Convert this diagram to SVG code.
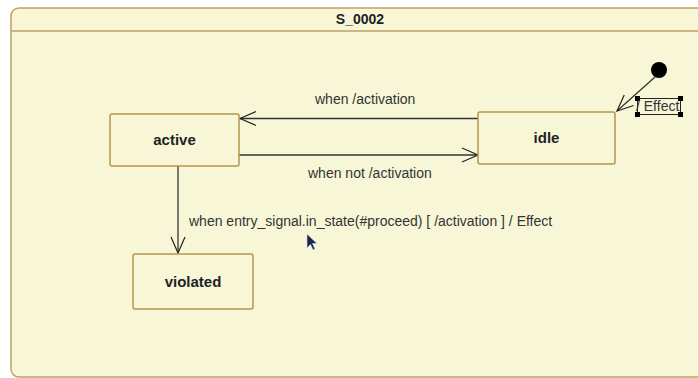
<svg xmlns="http://www.w3.org/2000/svg" width="698" height="378" viewBox="0 0 698 378">
  <defs>
    <marker id="open" viewBox="0 0 20 20" refX="18" refY="10" markerWidth="20" markerHeight="20" markerUnits="userSpaceOnUse" orient="auto">
      <path d="M2,3 L18,10 L2,17" fill="none" stroke="#222" stroke-width="1.2"/>
    </marker>
  </defs>
  <style>
    .frame { fill: #f7f7d8; stroke: #c0a060; stroke-width: 1.5; }
    .state { fill: #f7f7d8; stroke: #b8944c; stroke-width: 1.5; }
    .name { font-family: "Liberation Sans", Arial, sans-serif; font-size: 15px; font-weight: bold; fill: #222; text-anchor: middle; }
    .title { font-family: "Liberation Sans", Arial, sans-serif; font-size: 14px; font-weight: bold; fill: #222; text-anchor: middle; }
    .lbl { font-family: "Liberation Sans", Arial, sans-serif; font-size: 14px; fill: #333; }
    .edge { fill: none; stroke: #333; stroke-width: 1.3; marker-end: url(#open); }
  </style>
  <rect width="698" height="378" fill="#ffffff"/>

  <!-- composite state S_0002 -->
  <g id="S_0002">
    <rect class="frame" x="11" y="8" width="720" height="369" rx="8" ry="8"/>
    <line x1="11" y1="31" x2="698" y2="31" stroke="#c0a060" stroke-width="1.5"/>
    <text class="title" x="360" y="24">S_0002</text>
  </g>

  <!-- transitions -->
  <g id="connectors">
    <line class="edge" x1="478" y1="118.5" x2="240" y2="118.5"/>
    <text class="lbl" x="315" y="104">when /activation</text>
    <line class="edge" x1="239" y1="155" x2="478" y2="155"/>
    <text class="lbl" x="308" y="178">when not /activation</text>
    <line class="edge" x1="178" y1="166" x2="178" y2="253"/>
    <text class="lbl" x="189" y="226">when entry_signal.in_state(#proceed) [ /activation ] / Effect</text>
    <line class="edge" x1="655" y1="77" x2="617" y2="111"/>
    <g id="effect-label">
      <rect x="637.5" y="98.5" width="43" height="16" fill="none" stroke="#222" stroke-width="1"/>
      <rect x="635" y="96" width="5" height="5" fill="#000"/>
      <rect x="678" y="96" width="5" height="5" fill="#000"/>
      <rect x="635" y="112" width="5" height="5" fill="#000"/>
      <rect x="678" y="112" width="5" height="5" fill="#000"/>
      <text class="lbl" x="636" y="111">/ Effect</text>
    </g>
  </g>

  <g id="initial">
    <circle cx="659" cy="70" r="8" fill="#000"/>
  </g>

  <g id="active">
    <rect class="state" x="110" y="114" width="129" height="52" rx="2"/>
    <text class="name" x="174.5" y="145">active</text>
  </g>

  <g id="idle">
    <rect class="state" x="478" y="112" width="137" height="52" rx="2"/>
    <text class="name" x="546.5" y="143">idle</text>
  </g>

  <g id="violated">
    <rect class="state" x="133" y="254" width="120" height="55" rx="2"/>
    <text class="name" x="193" y="287">violated</text>
  </g>

  <!-- pointer -->
  <path d="M307,234 L307,248 L310.5,244.5 L313,250 L315,249 L312.5,243.5 L317,243.5 Z" fill="#1c2450" stroke="#e0e0e0" stroke-width="0.6"/>
</svg>
